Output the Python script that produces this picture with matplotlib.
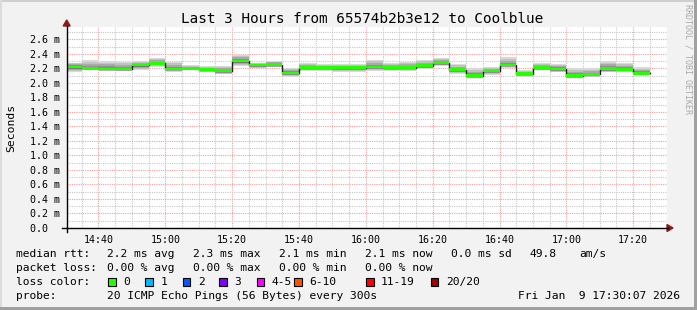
import matplotlib
matplotlib.use('Agg')
import matplotlib.pyplot as plt
from matplotlib.lines import Line2D
from matplotlib.patches import Polygon, Rectangle
from matplotlib.ticker import FixedLocator

W, H = 697, 310

# ---------------- data ----------------
times = ["14:30", "14:35", "14:40", "14:45", "14:50", "14:55", "15:00", "15:05", "15:10",
         "15:15", "15:20", "15:25", "15:30", "15:35", "15:40", "15:45", "15:50", "15:55",
         "16:00", "16:05", "16:10", "16:15", "16:20", "16:25", "16:30", "16:35", "16:40",
         "16:45", "16:50", "16:55", "17:00", "17:05", "17:10", "17:15", "17:20"]
median_ms = [2.22, 2.20, 2.19, 2.19, 2.245, 2.27, 2.19, 2.20, 2.18, 2.17, 2.30, 2.245,
             2.25, 2.135, 2.21, 2.21, 2.21, 2.21, 2.22, 2.21, 2.21, 2.235, 2.28, 2.18,
             2.10, 2.165, 2.245, 2.125, 2.21, 2.19, 2.10, 2.115, 2.195, 2.185, 2.13]
smoke_hi = [2.28, 2.31, 2.305, 2.29, 2.30, 2.34, 2.29, 2.245, 2.23, 2.23, 2.39, 2.28,
            2.305, 2.21, 2.28, 2.26, 2.26, 2.26, 2.315, 2.28, 2.29, 2.315, 2.34, 2.26,
            2.20, 2.22, 2.35, 2.175, 2.28, 2.26, 2.20, 2.20, 2.30, 2.28, 2.215]
smoke_lo = [2.145, 2.18, 2.165, 2.16, 2.18, 2.22, 2.155, 2.18, 2.155, 2.115, 2.23, 2.20,
            2.215, 2.075, 2.165, 2.165, 2.155, 2.155, 2.16, 2.17, 2.17, 2.19, 2.23, 2.115,
            2.06, 2.11, 2.21, 2.085, 2.175, 2.145, 2.06, 2.075, 2.145, 2.145, 2.11]
step_minutes = 5
x_tick_labels = ["14:40", "15:00", "15:20", "15:40", "16:00", "16:20", "16:40", "17:00", "17:20"]
y_tick_values = [0.0, 0.2, 0.4, 0.6, 0.8, 1.0, 1.2, 1.4, 1.6, 1.8, 2.0, 2.2, 2.4, 2.6]
loss_labels = ["0", "1", "2", "3", "4-5", "6-10", "11-19", "20/20"]
loss_colors = ["#26ff00", "#00b8ff", "#0059ff", "#7e00ff", "#ff00ff", "#ff5500", "#ff0000", "#a10000"]
title = "Last 3 Hours from 65574b2b3e12 to Coolblue"
stats_rtt = ["2.2 ms avg", "2.3 ms max", "2.1 ms min", "2.1 ms now", "0.0 ms sd", "49.8", "am/s"]
stats_loss = ["0.00 % avg", "0.00 % max", "0.00 % min", "0.00 % now"]
probe_text = "20 ICMP Echo Pings (56 Bytes) every 300s"
stamp_text = "Fri Jan  9 17:30:07 2026"


def tomin(s):
    h, m = s.split(":")
    return int(h) * 60 + int(m)


MONO = "DejaVu Sans Mono"
BG = "#f2f2f2"

fig = plt.figure(figsize=(W / 100, H / 100), dpi=100, facecolor=BG)


def fx(px):
    return px / W


def fy(py):
    return 1 - py / H


# plot area in pixels
L, R, T, B = 66.7, 667.0, 27.0, 228.0
PX_PER_MS = 72.58
ax = fig.add_axes([fx(L), fy(B), (R - L) / W, (B - T) / H])
ax.set_facecolor("white")
x0 = tomin("14:30") + 0.5
x1 = tomin("17:30") + 7 / 60
ax.set_xlim(x0, x1)
ax.set_ylim(0, (B - T) / PX_PER_MS)
for s in ax.spines.values():
    s.set_visible(False)

# grid
xt = [tomin(t) for t in x_tick_labels]
ax.xaxis.set_major_locator(FixedLocator(xt))
ax.xaxis.set_minor_locator(FixedLocator(list(range(tomin("14:35"), tomin("17:30") + 1, 5))))
ax.yaxis.set_major_locator(FixedLocator(y_tick_values))
ax.yaxis.set_minor_locator(FixedLocator([v + 0.1 for v in y_tick_values]))
ax.grid(which="minor", color="#c8c8c8", linestyle=(0, (1, 1)), linewidth=0.8)
ax.grid(which="major", color="#f2a0a0", linestyle=(0, (1, 1)), linewidth=0.8)
ax.set_axisbelow(True)
ax.set_xticklabels(x_tick_labels, fontsize=7.2, family=MONO)
ax.set_yticklabels([("%.1f m" % v) if v > 0 else "0.0  " for v in y_tick_values],
                   fontsize=7.2, family=MONO)
ax.tick_params(which="both", length=0)
ax.tick_params(axis="x", pad=5)
ax.tick_params(axis="y", pad=5)

# smoke + median
xs = [tomin(t) for t in times]
xe = xs + [xs[-1] + step_minutes]
med = median_ms + [median_ms[-1]]
hi = smoke_hi + [smoke_hi[-1]]
lo = smoke_lo + [smoke_lo[-1]]
shades = [(1.0, "#d9d9d9"), (0.78, "#c2c2c2"), (0.55, "#a9a9a9"), (0.32, "#8e8e8e")]
for k, c in shades:
    top = [m + k * (h - m) for m, h in zip(med, hi)]
    bot = [m - k * (m - l) for m, l in zip(med, lo)]
    ax.fill_between(xe, bot, top, step="post", color=c, linewidth=0, zorder=2)
ax.step(xe, med, where="post", color="#202020", linewidth=1.0, zorder=3)
sw = 0.018
ax.fill_between(xe, [m - sw for m in med], [m + sw for m in med], step="post",
                color=loss_colors[0], linewidth=0, zorder=4)

# axes lines with arrows
AX_COL = "#000000"
ARROW = "#8b1a1a"
fig.add_artist(Line2D([fx(62), fx(668)], [fy(B), fy(B)], color=AX_COL, linewidth=1.0))
fig.add_artist(Line2D([fx(L), fx(L)], [fy(232), fy(26)], color=AX_COL, linewidth=1.0))
fig.add_artist(Polygon([[fx(L - 3.5), fy(26)], [fx(L + 3.5), fy(26)], [fx(L), fy(20)]],
                       closed=True, color=ARROW, transform=fig.transFigure))
fig.add_artist(Polygon([[fx(667), fy(B - 3.5)], [fx(667), fy(B + 3.5)], [fx(673), fy(B)]],
                       closed=True, color=ARROW, transform=fig.transFigure))

# title, labels
fig.text(fx(362), fy(19), title, family=MONO, fontsize=10.4, ha="center", va="center", color="#000000")
fig.text(fx(11), fy(128), "Seconds", family=MONO, fontsize=8.2, rotation=90, ha="center", va="center")
fig.text(fx(688), fy(59), "RRDTOOL / TOBI OETIKER", family=MONO, fontsize=6.0, rotation=270,
         ha="center", va="center", color="#a8a8a8")

# legend rows
FS = 8.1
rows_y = [254, 268, 282, 296]
fig.text(fx(16), fy(rows_y[0]), "median rtt:", family=MONO, fontsize=FS, va="center")
for xp, s in zip([107, 193, 279, 365, 451, 530, 579], stats_rtt):
    fig.text(fx(xp), fy(rows_y[0]), s, family=MONO, fontsize=FS, va="center")
fig.text(fx(16), fy(rows_y[1]), "packet loss:", family=MONO, fontsize=FS, va="center")
for xp, s in zip([107, 193, 279, 365], stats_loss):
    fig.text(fx(xp), fy(rows_y[1]), s, family=MONO, fontsize=FS, va="center")
fig.text(fx(16), fy(rows_y[2]), "loss color:", family=MONO, fontsize=FS, va="center")
box_x = [108.3, 145.3, 182.7, 219.3, 256.7, 294.0, 366.0, 430.7]
for bx, lab, col in zip(box_x, loss_labels, loss_colors):
    fig.add_artist(Rectangle((fx(bx), fy(rows_y[2] + 4)), 7.5 / W, 8 / H, facecolor=col,
                             edgecolor="black", linewidth=0.8, transform=fig.transFigure))
    fig.text(fx(bx + 15), fy(rows_y[2]), lab, family=MONO, fontsize=FS, va="center")
fig.text(fx(16), fy(rows_y[3]), "probe:", family=MONO, fontsize=FS, va="center")
fig.text(fx(107), fy(rows_y[3]), probe_text, family=MONO, fontsize=FS, va="center")
fig.text(fx(680), fy(rows_y[3]), stamp_text, family=MONO, fontsize=FS, va="center", ha="right")

# frame shading
fig.add_artist(Rectangle((0, fy(2)), 1, 2 / H, facecolor="#cfcfcf", edgecolor="none", transform=fig.transFigure))
fig.add_artist(Rectangle((0, 0), 2 / W, 1, facecolor="#dcdcdc", edgecolor="none", transform=fig.transFigure))
fig.add_artist(Rectangle((0, 0), 1, 3 / H, facecolor="#a0a0a0", edgecolor="none", transform=fig.transFigure))
fig.add_artist(Rectangle((fx(694), 0), 3 / W, 1, facecolor="#a0a0a0", edgecolor="none", transform=fig.transFigure))

fig.savefig("out.png", dpi=100, facecolor=BG)
